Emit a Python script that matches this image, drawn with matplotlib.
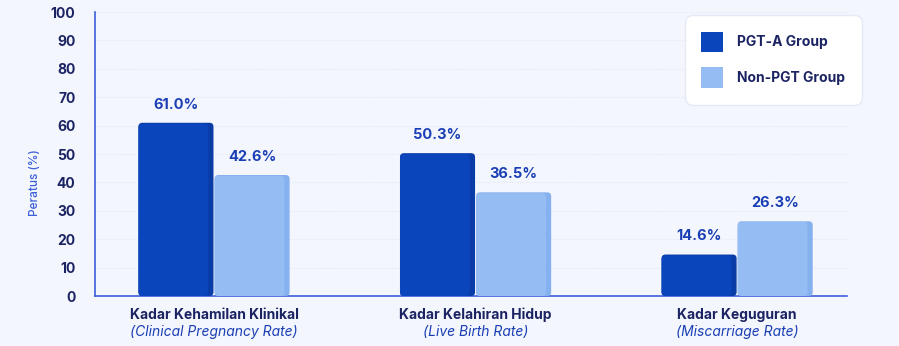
import matplotlib.pyplot as plt
from matplotlib.patches import FancyBboxPatch, Patch
from matplotlib.transforms import blended_transform_factory

categories = ["Kadar Kehamilan Klinikal", "Kadar Kelahiran Hidup", "Kadar Keguguran"]
subtitles = ["(Clinical Pregnancy Rate)", "(Live Birth Rate)", "(Miscarriage Rate)"]
pgt_a = [61.0, 50.3, 14.6]
non_pgt = [42.6, 36.5, 26.3]
series_names = ["PGT-A Group", "Non-PGT Group"]
yticks = list(range(0, 101, 10))

bg = "#f4f6fd"
dark = "#0b45bb"
dark_side = "#0a3ca8"
light = "#95bdf3"
light_side = "#86b1ef"
navy = "#1b2363"
blue_txt = "#1a3fb5"
axis_col = "#3d5fd9"

plt.rcParams['font.family'] = ['Inter', 'DejaVu Sans']

fig = plt.figure(figsize=(8.99, 3.46), dpi=100, facecolor=bg)
ax = fig.add_axes([95 / 899, 1 - 296 / 346, (847 - 95) / 899, (296 - 12) / 346])
ax.set_facecolor(bg)

ax.set_xlim(-0.455, 2.42)
ax.set_ylim(0, 100)

w = 0.287
gap = 0.004
x = range(len(categories))

# aspect so rounding looks circular in pixels
px_x = (847 - 95) / (2.42 + 0.455)
px_y = (296 - 12) / 100
aspect = px_x / px_y
r = 4 / px_x


def rounded_bar(x0, h, face, side):
    ax.add_patch(FancyBboxPatch((x0, 0), w, h,
                                boxstyle=f"round,pad=0,rounding_size={r}",
                                mutation_aspect=aspect, fc=side, ec="none", zorder=3))
    ax.add_patch(FancyBboxPatch((x0, 0), w - 0.02, h - 0.3,
                                boxstyle=f"round,pad=0,rounding_size={r}",
                                mutation_aspect=aspect, fc=face, ec="none", zorder=3))


for i in x:
    rounded_bar(i - w - gap / 2, pgt_a[i], dark, dark_side)
    rounded_bar(i + gap / 2, non_pgt[i], light, light_side)
    ax.annotate(f"{pgt_a[i]:.1f}%", (i - w / 2 - gap / 2, pgt_a[i]), xytext=(0, 8),
                textcoords="offset points", ha="center", va="bottom",
                fontsize=10.5, fontweight="bold", color=blue_txt)
    ax.annotate(f"{non_pgt[i]:.1f}%", (i + w / 2 + gap / 2, non_pgt[i]), xytext=(0, 8),
                textcoords="offset points", ha="center", va="bottom",
                fontsize=10.5, fontweight="bold", color=blue_txt)

# gridlines
for t in yticks[1:]:
    ax.axhline(t, color="#e2e6f5", lw=0.8, ls=(0, (1, 1.5)), zorder=1)

ax.set_yticks(yticks)
ax.set_yticklabels([str(t) for t in yticks], fontsize=10, fontweight="bold", color=navy)
ax.tick_params(axis="y", length=0, pad=14)
ax.set_xticks([])

for s in ["top", "right"]:
    ax.spines[s].set_visible(False)
for s in ["left", "bottom"]:
    ax.spines[s].set_color(axis_col)
    ax.spines[s].set_linewidth(1.2)

trans = blended_transform_factory(ax.transData, fig.transFigure)
for i in x:
    ax.text(i, 1 - 315 / 346, categories[i], transform=trans, ha="center", va="center",
            fontsize=10, fontweight="bold", color=navy)
    ax.text(i, 1 - 332 / 346, subtitles[i], transform=trans, ha="center", va="center",
            fontsize=10, style="italic", color=blue_txt)

fig.text(35 / 899, 1 - 183 / 346, "Peratus (%)", rotation=90, ha="center", va="center",
         fontsize=8.5, fontweight="medium", color=axis_col)

handles = [Patch(facecolor=dark, edgecolor="none"), Patch(facecolor=light, edgecolor="none")]
leg = ax.legend(handles, series_names, loc="upper right",
                bbox_to_anchor=(862 / 899, 1 - 15 / 346), bbox_transform=fig.transFigure,
                borderaxespad=0,
                fontsize=10, handlelength=1.6, handleheight=1.9, labelspacing=1.1,
                borderpad=1.2, handletextpad=1.0, fancybox=True, framealpha=1,
                facecolor="white", edgecolor="#e6eaf7")
for t in leg.get_texts():
    t.set_color(navy)
    t.set_fontweight("bold")
leg.get_frame().set_boxstyle("round,pad=0,rounding_size=0.6")

fig.savefig("out.png", dpi=100, facecolor=bg)
